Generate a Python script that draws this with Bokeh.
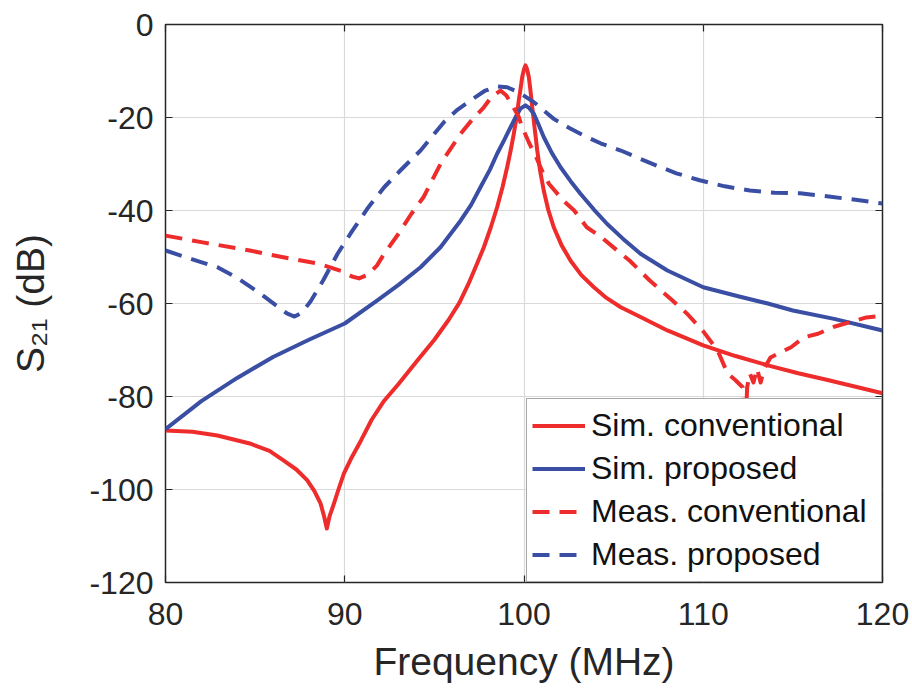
from bokeh.plotting import figure
from bokeh.models import (Legend, LegendItem, FixedTicker, LinearAxis, Range1d,
                          CustomJSTickFormatter, PrintfTickFormatter)
from bokeh.embed import file_html
from bokeh.resources import INLINE

# ---------------- data ----------------
x_ticks = [80, 90, 100, 110, 120]
y_ticks = [-120, -100, -80, -60, -40, -20, 0]

sim_conv_f = [80, 81.5, 82.9, 84.7, 85.8, 86.6, 87.3, 87.9, 88.3, 88.65, 88.85, 89.0, 89.15,
              89.4, 89.65, 89.95, 90.4, 90.9, 91.5, 92.2, 93, 94.04, 95, 95.8, 96.4, 96.9,
              97.35, 97.76, 98.15, 98.5, 98.8, 99.06, 99.25, 99.43, 99.6, 99.71, 99.82, 99.9,
              100.0, 100.08, 100.17, 100.27, 100.36, 100.46, 100.6, 100.74, 100.9, 101.1,
              101.35, 101.66, 102.1, 102.6, 103.2, 103.9, 104.6, 105.4, 106.5, 108, 110, 111.8,
              113.6, 115.3, 117, 118.5, 120]
sim_conv_db = [-87.3, -87.6, -88.4, -90.1, -91.7, -93.8, -95.7, -98, -100.3, -103, -105.8,
               -108.4, -105.8, -103, -100, -96.6, -93, -89.5, -85, -80.9, -77.3, -72.3, -67.8,
               -63.5, -59.8, -55.8, -51.7, -47.9, -43.6, -39.3, -35, -30.7, -27.2, -23.5, -19.6,
               -16.3, -13.5, -11.3, -9.6, -8.8, -9.6, -11.3, -14.2, -17.8, -22.5, -27.1, -31.5,
               -35.7, -39.8, -43.6, -47.5, -50.8, -53.9, -56.5, -58.8, -60.8, -62.9, -65.8,
               -69, -71.3, -73.3, -75, -76.5, -77.9, -79.3]

sim_prop_f = [80, 82, 84, 86, 88, 90, 91.8, 93, 94.23, 95.34, 96.46, 97.05, 97.57, 98.1, 98.5,
              98.9, 99.25, 99.55, 99.8, 100.08, 100.3, 100.55, 100.8, 101.1, 101.55, 102.04,
              102.6, 103.15, 103.9, 104.64, 105.5, 106.5, 108, 110, 112, 113.6, 115, 117.3, 120]
sim_prop_db = [-87, -81, -76, -71.5, -67.8, -64.3, -59.4, -56, -52.2, -47.9, -42.2, -38.8, -35,
               -31.2, -27.8, -24.8, -22.1, -19.8, -18.1, -17.4, -18, -19.2, -21.4, -24.2, -27.6,
               -30.7, -33.7, -36.4, -39.8, -42.9, -46, -49.3, -52.9, -56.5, -58.5, -60, -61.5,
               -63.3, -65.8]

meas_conv_f = [80, 82, 84.7, 86.5, 88.5, 89.8, 90.4, 90.8, 91.3, 91.8, 92.2, 93, 93.7, 94.4,
               95.34, 96.46, 97.1, 97.76, 98.2, 98.69, 99.0, 99.25, 99.71, 99.9, 100.3, 100.6,
               101, 101.4, 102.2, 102.8, 103.5, 104.3, 105.2, 105.9, 107, 108.3, 109.1, 110,
               110.8, 111.35, 111.8, 112.2, 112.3, 112.45, 112.6, 112.8, 113.0, 113.2, 113.4,
               113.75, 114.9, 115.6, 116.4, 117.3, 118.2, 119.1, 120]
meas_conv_db = [-45.4, -46.8, -48.6, -50, -51.4, -53, -54.2, -54.6, -53.8, -51.8, -49.3, -45,
                -40.8, -37.1, -30, -23.5, -20.5, -17.8, -15.5, -14.2, -15.2, -16.7, -19.9, -22.1,
                -25.6, -27.8, -31.4, -34.3, -37.9, -40, -43.6, -45.7, -48.6, -50.8, -55, -59.4,
                -62.2, -66, -70.1, -75, -76.5, -78, -92, -78, -75, -77, -74, -77, -74, -71.6,
                -69.4, -67.3, -66.5, -65, -64, -63, -62.6]

meas_prop_f = [80, 81.5, 82.9, 84, 85.3, 86.2, 86.8, 87.2, 87.6, 88.1, 88.8, 89.6, 90.4, 91.3,
               92.2, 93.1, 94.23, 95.53, 96.3, 97.02, 97.8, 98.5, 99.06, 99.55, 99.99, 100.55,
               101.1, 101.66, 102.5, 103.34, 104.3, 105.4, 106.5, 107.5, 108.5, 109.8, 111.2,
               112.6, 114, 115.4, 117, 118.5, 120]
meas_prop_db = [-48.6, -50.5, -52.2, -54.5, -57.9, -60.5, -62.2, -62.8, -62, -59.5, -55, -49.3,
                -44.5, -39.4, -35, -31.4, -27.1, -21, -18.3, -16.3, -14.3, -13.3, -13.5, -14.3,
                -15.3, -16.7, -18.5, -20.3, -22.2, -23.9, -25.6, -27.1, -28.9, -30.5, -32, -33.5,
                -34.8, -35.7, -36.2, -36.3, -37, -37.7, -38.5]

labels = ["Sim. conventional", "Sim. proposed", "Meas. conventional", "Meas. proposed"]

# ---------------- style ----------------
RED = "#EE2C2C"
BLUE = "#3A4EA4"
TXT = "#262626"
FONT = "Liberation Sans"
LW = 4
DASH = "17 10"

p = figure(width=912, height=694, x_range=Range1d(80, 120), y_range=Range1d(-120, 0),
           output_backend="svg", toolbar_location=None,
           min_border_left=165, min_border_right=30, min_border_top=24, min_border_bottom=112)
p.background_fill_color = "white"
p.border_fill_color = "white"
p.outline_line_color = TXT
p.outline_line_width = 1.5
p.outline_line_alpha = 1.0

p.xaxis.ticker = FixedTicker(ticks=x_ticks)
p.yaxis.ticker = FixedTicker(ticks=y_ticks)
p.yaxis.formatter = PrintfTickFormatter(format="%d")
p.xgrid.ticker = FixedTicker(ticks=x_ticks)
p.ygrid.ticker = FixedTicker(ticks=y_ticks)
for g in (p.xgrid, p.ygrid):
    g.grid_line_color = "#d9d9d9"
    g.grid_line_width = 1.2

for ax in (p.xaxis, p.yaxis):
    ax.axis_line_color = None
    ax.major_tick_in = 7
    ax.major_tick_out = 0
    ax.major_tick_line_color = TXT
    ax.major_tick_line_width = 1.2
    ax.minor_tick_line_color = None
    ax.major_label_text_font = FONT
    ax.major_label_text_font_size = "32px"
    ax.major_label_text_color = TXT

p.xaxis.major_label_standoff = 20
p.yaxis.major_label_standoff = 12
p.xaxis.axis_label = "Frequency (MHz)"
p.yaxis.axis_label = "S\u2082\u2081 (dB)"
for ax in (p.xaxis, p.yaxis):
    ax.axis_label_text_font = FONT
    ax.axis_label_text_font_size = "39px"
    ax.axis_label_text_font_style = "normal"
    ax.axis_label_text_color = TXT
p.xaxis.axis_label_standoff = 12
p.yaxis.axis_label_standoff = 34

# mirrored inward ticks on right and top (box on)
blank = CustomJSTickFormatter(code="return '';")
r_ax = LinearAxis(ticker=FixedTicker(ticks=y_ticks), formatter=blank, axis_line_color=None,
                  major_tick_in=7, major_tick_out=0, major_tick_line_color=TXT,
                  major_tick_line_width=1.2, minor_tick_line_color=None,
                  major_label_standoff=0)
t_ax = LinearAxis(ticker=FixedTicker(ticks=x_ticks), formatter=blank, axis_line_color=None,
                  major_tick_in=7, major_tick_out=0, major_tick_line_color=TXT,
                  major_tick_line_width=1.2, minor_tick_line_color=None,
                  major_label_standoff=0)
p.add_layout(r_ax, "right")
p.add_layout(t_ax, "above")

r1 = p.line(sim_conv_f, sim_conv_db, line_color=RED, line_width=LW, line_join="round")
r2 = p.line(sim_prop_f, sim_prop_db, line_color=BLUE, line_width=LW, line_join="round")
r3 = p.line(meas_conv_f, meas_conv_db, line_color=RED, line_width=LW, line_dash=DASH,
            line_join="round")
r4 = p.line(meas_prop_f, meas_prop_db, line_color=BLUE, line_width=LW, line_dash=DASH,
            line_join="round")

legend = Legend(items=[LegendItem(label=labels[0], renderers=[r1]),
                       LegendItem(label=labels[1], renderers=[r2]),
                       LegendItem(label=labels[2], renderers=[r3]),
                       LegendItem(label=labels[3], renderers=[r4])],
                location="bottom_right", margin=0, padding=5, spacing=0,
                glyph_width=53, glyph_height=43, label_height=43, label_standoff=6,
                label_width=285)
legend.label_text_font = FONT
legend.label_text_font_size = "32px"
legend.label_text_color = "#111111"
legend.border_line_color = "#4d4d4d"
legend.border_line_width = 1.5
legend.background_fill_color = "white"
legend.background_fill_alpha = 1.0
p.add_layout(legend)

open("out.html", "w").write(file_html(p, INLINE))
